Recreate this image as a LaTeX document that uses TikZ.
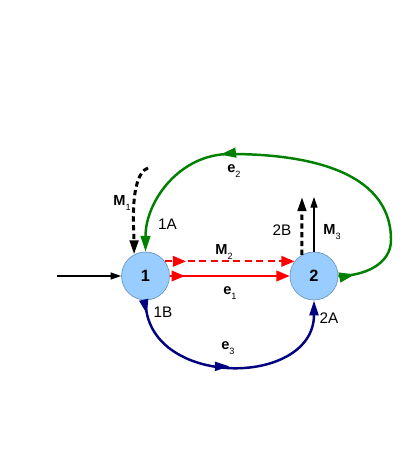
\documentclass[tikz,border=0pt]{standalone}
\usepackage{fontspec}
\setmainfont{Liberation Sans}
\usetikzlibrary{arrows.meta,decorations.markings}
\usepackage{xcolor}

\definecolor{nodefill}{RGB}{153,204,255}
\definecolor{nodeline}{RGB}{112,150,196}
\definecolor{arcred}{RGB}{255,0,0}
\definecolor{arcgreen}{RGB}{0,128,0}
\definecolor{arcblue}{RGB}{0,0,128}

\newcommand{\sublbl}[2]{\textbf{#1}\raisebox{-0.6ex}{\fontsize{5.2}{6}\selectfont #2}}

\begin{document}
\begin{tikzpicture}[x=0.02cm,y=0.02cm,font=\fontsize{8.7}{10}\selectfont,
  station/.style={circle,draw=nodeline,line width=0.4pt,fill=nodefill,minimum size=0.96cm,inner sep=0pt,font=\fontsize{9.3}{11}\selectfont\bfseries},
  lbl/.style={anchor=base west,inner sep=0pt,font=\fontsize{8.3}{10}\selectfont},
  thinarrow/.style={-{Triangle[length=6pt,width=4pt]},line width=0.6pt},
  blackdash/.style={-{Triangle[length=8pt,width=4.8pt]},line width=1.7pt,dash pattern=on 3pt off 2pt},
  redarc/.style 2 args={color=arcred,line width=1.1pt,#1,-{Triangle[length=7.5pt,width=6pt]},
    postaction={decorate,decoration={markings,mark=at position #2 with {\arrow{Triangle[length=7.5pt,width=6pt]}}}}},
  greenarc/.style={color=arcgreen,line width=1.4pt,-{Triangle[length=9pt,width=5.5pt]},
    postaction={decorate,decoration={markings,
      mark=at position 9.5pt with {\arrow{Triangle[length=9pt,width=5.5pt]}},
      mark=at position 0.68 with {\arrow{Triangle[length=9pt,width=5.5pt]}}}}},
  bluearc/.style={color=arcblue,line width=1.4pt,-{Triangle[length=8.5pt,width=5pt]},
    postaction={decorate,decoration={markings,
      mark=at position 8pt with {\arrow{Triangle[length=8.5pt,width=5pt]}},
      mark=at position 0.5 with {\arrow{Triangle[length=8.5pt,width=5pt]}}}}}]
\useasboundingbox (0,0) rectangle (415,470);

\node[station] (n1) at (145.5,194) {1};
\node[station] (n2) at (314,194) {2};

\coordinate (src) at (57,194);
\coordinate (m1top) at (148,302);
\coordinate (b2top) at (302,273);
\coordinate (m3top) at (314,273);
\coordinate (gright) at (391,230);
\coordinate (gtop) at (230,316);

% inflow and M arcs
\draw[thinarrow] (src) -- (n1);
\draw[blackdash] (m1top) to[out=200,in=90,looseness=0.6] (n1.118);
\draw[blackdash] (n2.120) -- (b2top);
\draw[thinarrow] (n2.north) -- (m3top);
\draw[redarc={dash pattern=on 4pt off 2.5pt}{12pt}] (n1.37) -- (n2.143);
\draw[redarc={solid}{8.5pt}] (n1.east) -- (n2.west);

% e arcs
\draw[greenarc] (n2.east) to[out=0,in=-90] (gright) to[out=90,in=0] (gtop) to[out=180,in=90] (n1.north);
\draw[bluearc] (n1.south) to[out=-90,in=-90,looseness=1.34] (n2.south);

\node[lbl] (lm1) at (113,264) {\sublbl{M}{1}};
\node[lbl] (lm2) at (215,215) {\sublbl{M}{2}};
\node[lbl] (lm3) at (323,235) {\sublbl{M}{3}};
\node[lbl] (le1) at (223,175) {\sublbl{e}{1}};
\node[lbl] (le2) at (227,297) {\sublbl{e}{2}};
\node[lbl] (le3) at (221,120) {\sublbl{e}{3}};
\node (l1a) at (167.5,245.5) {1A};
\node (l1b) at (163,158) {1B};
\node (l2a) at (329,152) {2A};
\node (l2b) at (282,239.5) {2B};
\end{tikzpicture}
\end{document}
